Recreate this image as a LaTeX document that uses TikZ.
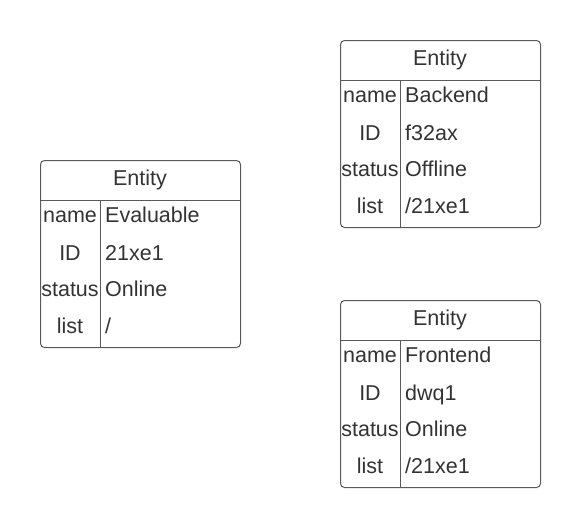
\documentclass[tikz,border=0pt]{standalone}
\usepackage{fontspec}
\setmainfont{Liberation Sans}
\definecolor{linec}{HTML}{5A5A5A}
\definecolor{textc}{HTML}{333333}
\tikzset{
  ebox/.style={draw=linec, line width=1pt, rounded corners=4pt, minimum width=200pt, minimum height=187pt, inner sep=0pt, anchor=north west},
  etxt/.style={text=textc, font=\fontsize{21.5}{24}\selectfont, inner sep=0pt, anchor=base},
  eval/.style={etxt, anchor=base west},
  eline/.style={draw=linec, line width=1pt},
}
\newcommand{\entitytable}[6]{%
  \node[ebox] (#1) at (#2,#3) {};
  \node[etxt] (#1-h) at (#2+100,#3+25) {Entity};
  \coordinate (#1-hl) at (#2,#3+40);
  \coordinate (#1-hr) at (#2+200,#3+40);
  \coordinate (#1-vt) at (#2+60,#3+40);
  \coordinate (#1-vb) at (#2+60,#3+187);
  \draw[eline] (#1-hl) -- (#1-hr);
  \draw[eline] (#1-vt) -- (#1-vb);
  \node[etxt] (#1-k1) at (#2+30,#3+62.5) {name};
  \node[etxt] (#1-k2) at (#2+30,#3+100) {ID};
  \node[etxt] (#1-k3) at (#2+30,#3+136.5) {status};
  \node[etxt] (#1-k4) at (#2+30,#3+173) {list};
  \node[eval] (#1-v1) at (#2+65,#3+62.5) {#4};
  \node[eval] (#1-v2) at (#2+65,#3+100) {#5};
  \node[eval] (#1-v3) at (#2+65,#3+136.5) {#6};
}
\begin{document}
\begin{tikzpicture}[x=1pt,y=-1pt]
\useasboundingbox (0,0) rectangle (580,528);
\entitytable{eval}{40}{160}{Evaluable}{21xe1}{Online}
\node[eval] (eval-v4) at (105,333) {/};
\entitytable{back}{340}{40}{Backend}{f32ax}{Offline}
\node[eval] (back-v4) at (405,213) {/21xe1};
\entitytable{front}{340}{300}{Frontend}{dwq1}{Online}
\node[eval] (front-v4) at (405,473) {/21xe1};
\end{tikzpicture}
\end{document}
